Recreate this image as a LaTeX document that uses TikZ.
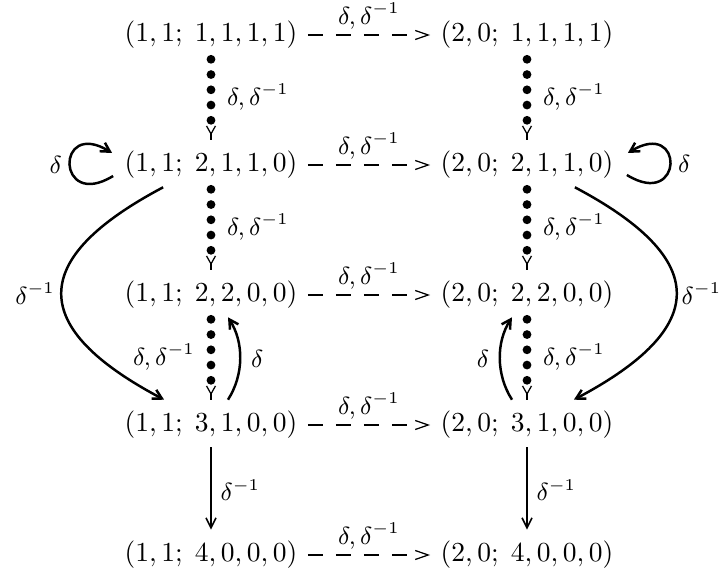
\documentclass[tikz,border=0pt]{standalone}
\usetikzlibrary{arrows.meta,calc}
\begin{document}
\begin{tikzpicture}[x=0.3636pt,y=0.3636pt,
  obj/.style={inner sep=0pt, text height=7.5pt, text depth=2.5pt},
  lab/.style={font=\small, inner sep=1pt},
  hdash/.style={line width=0.45pt,
    dash pattern=on 5.45pt off 4.73pt on 5.45pt off 4.73pt on 5.45pt off 4.73pt on 5.45pt off 29pt,
    -{Straight Barb[length=4.73pt,width=3.27pt]}, shorten <=3.64pt, shorten >=3.64pt},
  dotv/.style={line width=3.2pt, line cap=round, dash pattern=on 0pt off 5.545pt,
    shorten <=3.64pt, shorten >=10.54pt},
  ytip/.style={line width=0.45pt, {Straight Barb[reversed,length=2.91pt,width=3.27pt]}-,
    shorten <=27.63pt, shorten >=4pt},
  down/.style={line width=0.6pt, -{Straight Barb[length=3.64pt,width=3.64pt]},
    shorten <=2.91pt, shorten >=4pt},
  curve/.style={line width=0.9pt, -{Straight Barb[length=3.27pt,width=3.64pt]}}
]
\useasboundingbox (0,0) rectangle (722,-572);

% objects
\node[obj] (a1) at (211,-35)  {$(1,1;\;1,1,1,1)$};
\node[obj] (b1) at (527,-35)  {$(2,0;\;1,1,1,1)$};
\node[obj] (a2) at (211,-165) {$(1,1;\;2,1,1,0)$};
\node[obj] (b2) at (527,-165) {$(2,0;\;2,1,1,0)$};
\node[obj] (a3) at (211,-295) {$(1,1;\;2,2,0,0)$};
\node[obj] (b3) at (527,-295) {$(2,0;\;2,2,0,0)$};
\node[obj] (a4) at (211,-425) {$(1,1;\;3,1,0,0)$};
\node[obj] (b4) at (527,-425) {$(2,0;\;3,1,0,0)$};
\node[obj] (a5) at (211,-555) {$(1,1;\;4,0,0,0)$};
\node[obj] (b5) at (527,-555) {$(2,0;\;4,0,0,0)$};

% horizontal dashed arrows
\foreach \i in {1,...,5}{
  \draw[hdash] (a\i) -- (b\i) node[lab, midway, above=1pt] {$\delta,\delta^{-1}$};
}

% vertical dotted arrows
\draw[dotv] (a1) -- (a2) node[lab, pos=0.47, right=3.27pt] {$\delta,\delta^{-1}$};
\draw[ytip] (a1) -- (a2);
\draw[dotv] (b1) -- (b2) node[lab, pos=0.47, right=3.27pt] {$\delta,\delta^{-1}$};
\draw[ytip] (b1) -- (b2);
\draw[dotv] (a2) -- (a3) node[lab, pos=0.47, right=3.27pt] {$\delta,\delta^{-1}$};
\draw[ytip] (a2) -- (a3);
\draw[dotv] (b2) -- (b3) node[lab, pos=0.47, right=3.27pt] {$\delta,\delta^{-1}$};
\draw[ytip] (b2) -- (b3);
\draw[dotv] (a3) -- (a4) node[lab, pos=0.47, left=3.27pt] {$\delta,\delta^{-1}$};
\draw[ytip] (a3) -- (a4);
\draw[dotv] (b3) -- (b4) node[lab, pos=0.47, right=3.27pt] {$\delta,\delta^{-1}$};
\draw[ytip] (b3) -- (b4);

% solid down arrows
\draw[down] (a4) -- (a5) node[lab, midway, right=2.2pt] {$\delta^{-1}$};
\draw[down] (b4) -- (b5) node[lab, midway, right=2.2pt] {$\delta^{-1}$};

% self loops
\draw[curve] ($(a2.west)+(-11,-11)$) .. controls +(-57,-35) and +(-57,35) .. ($(a2.west)+(-12,12)$)
  node[lab, pos=0.5, left=1.45pt] {$\delta$};
\draw[curve] ($(b2.east)+(13,-10)$) .. controls +(57,-35) and +(57,35) .. ($(b2.east)+(14,12)$)
  node[lab, pos=0.5, right=1.45pt] {$\delta$};

% big curves
\draw[curve] ($(a2.south west)+(39,-8)$) .. controls +(-136,-72) and +(-136,72) .. ($(a4.north west)+(40,11)$)
  node[lab, pos=0.5, left=1pt] {$\delta^{-1}$};
\draw[curve] ($(b2.south east)+(-39,-8)$) .. controls +(136,-72) and +(136,72) .. ($(b4.north east)+(-40,11)$)
  node[lab, pos=0.5, right=0.5pt] {$\delta^{-1}$};

% small delta curves
\draw[curve] ($(a4.north)+(17,11)$) .. controls +(16,25) and +(16,-25) .. ($(a3.south)+(17,-8)$)
  node[lab, pos=0.5, right=2.55pt] {$\delta$};
\draw[curve] ($(b4.north)+(-15,11)$) .. controls +(-16,25) and +(-16,-25) .. ($(b3.south)+(-15,-8)$)
  node[lab, pos=0.5, left=2.55pt] {$\delta$};
\end{tikzpicture}
\end{document}
